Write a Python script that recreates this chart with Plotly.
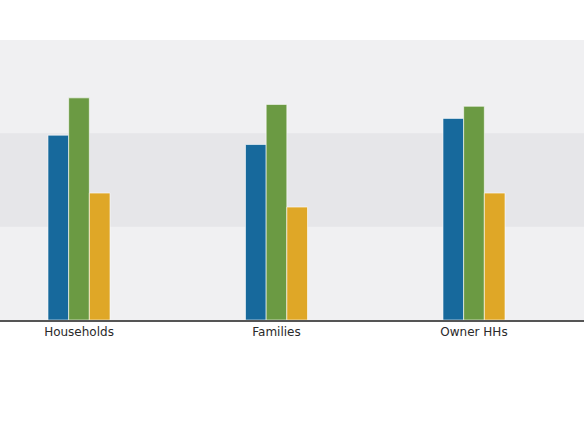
import plotly.graph_objects as go

categories = ["Households", "Families", "Owner HHs"]
series_a = [198, 188, 216]
series_b = [238, 231, 229]
series_c = [136, 121, 136]
band_edges = [0, 100, 200, 300]

colors = ["#17699c", "#6b9a43", "#dfa727"]

fig = go.Figure()
for vals, col in zip([series_a, series_b, series_c], colors):
    fig.add_trace(go.Bar(x=categories, y=vals, marker=dict(color=col, line=dict(color="rgba(255,255,255,0.6)", width=1)),
                         hoverinfo="skip", showlegend=False))

fig.add_shape(type="rect", xref="paper", yref="y", x0=0, x1=1, y0=band_edges[1], y1=band_edges[2],
              fillcolor="#e6e6e9", line_width=0, layer="below")

fig.update_layout(
    width=584, height=438,
    margin=dict(l=0, r=0, t=40, b=118),
    paper_bgcolor="white", plot_bgcolor="#f0f0f2",
    barmode="group", bargap=0.686, bargroupgap=0,
    font=dict(family="DejaVu Sans", size=12, color="#2a2a2a"),
    xaxis=dict(range=[-0.4, 2.557], showgrid=False, showline=True, linecolor="#555555", linewidth=1.5,
               ticks="", ticklabelstandoff=0, tickfont=dict(size=12, color="#2a2a2a")),
    yaxis=dict(range=[band_edges[0], band_edges[-1]], showgrid=False, showticklabels=False, zeroline=False, showline=False),
)

fig.write_html("out.html")
